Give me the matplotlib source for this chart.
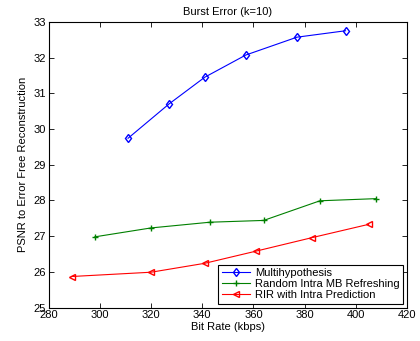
import matplotlib
matplotlib.use("Agg")
import matplotlib.pyplot as plt

plt.rcParams['font.family'] = ['Liberation Sans', 'DejaVu Sans']
plt.rcParams['font.size'] = 8

# data
rate_multi = [311, 327, 341, 357, 377, 396]
psnr_multi = [29.74, 30.70, 31.45, 32.07, 32.57, 32.75]

rate_rir = [298, 320, 343, 364, 386, 408]
psnr_rir = [26.98, 27.23, 27.39, 27.44, 27.99, 28.05]

rate_intra = [289, 320, 341, 361, 383, 405]
psnr_intra = [25.87, 25.99, 26.24, 26.58, 26.96, 27.33]

xticks = [280, 300, 320, 340, 360, 380, 400, 420]
yticks = [25, 26, 27, 28, 29, 30, 31, 32, 33]

fig = plt.figure(figsize=(4.2, 3.41), dpi=100)
ax = fig.add_axes([0.116, 0.098, 0.853, 0.838])

ax.plot(rate_multi, psnr_multi, color='blue', marker='d', markersize=4.5,
        markerfacecolor='none', linewidth=0.8, label='Multihypothesis')
ax.plot(rate_rir, psnr_rir, color='green', marker='+', markersize=5,
        linewidth=0.8, label='Random Intra MB Refreshing')
ax.plot(rate_intra, psnr_intra, color='red', marker='<', markersize=4.5,
        markerfacecolor='none', linewidth=0.8, label='RIR with Intra Prediction')

ax.set_xlim(280, 420)
ax.set_ylim(25, 33)
ax.set_xticks(xticks)
ax.set_yticks(yticks)
ax.tick_params(direction='in', top=True, right=True, length=3.5, width=0.6, pad=2)
for s in ax.spines.values():
    s.set_linewidth(0.8)

ax.set_xlabel('Bit Rate (kbps)', labelpad=1)
ax.set_ylabel('PSNR to Error Free Reconstruction', labelpad=4)
ax.set_title('Burst Error (k=10)', fontsize=8, pad=5)

leg = ax.legend(loc='lower right', fancybox=False, edgecolor='black',
                framealpha=1, borderaxespad=0.35, handlelength=2.5,
                borderpad=0.3, labelspacing=0.1, handletextpad=0.5)
leg.get_frame().set_linewidth(0.8)

fig.savefig('out.png', dpi=100)
